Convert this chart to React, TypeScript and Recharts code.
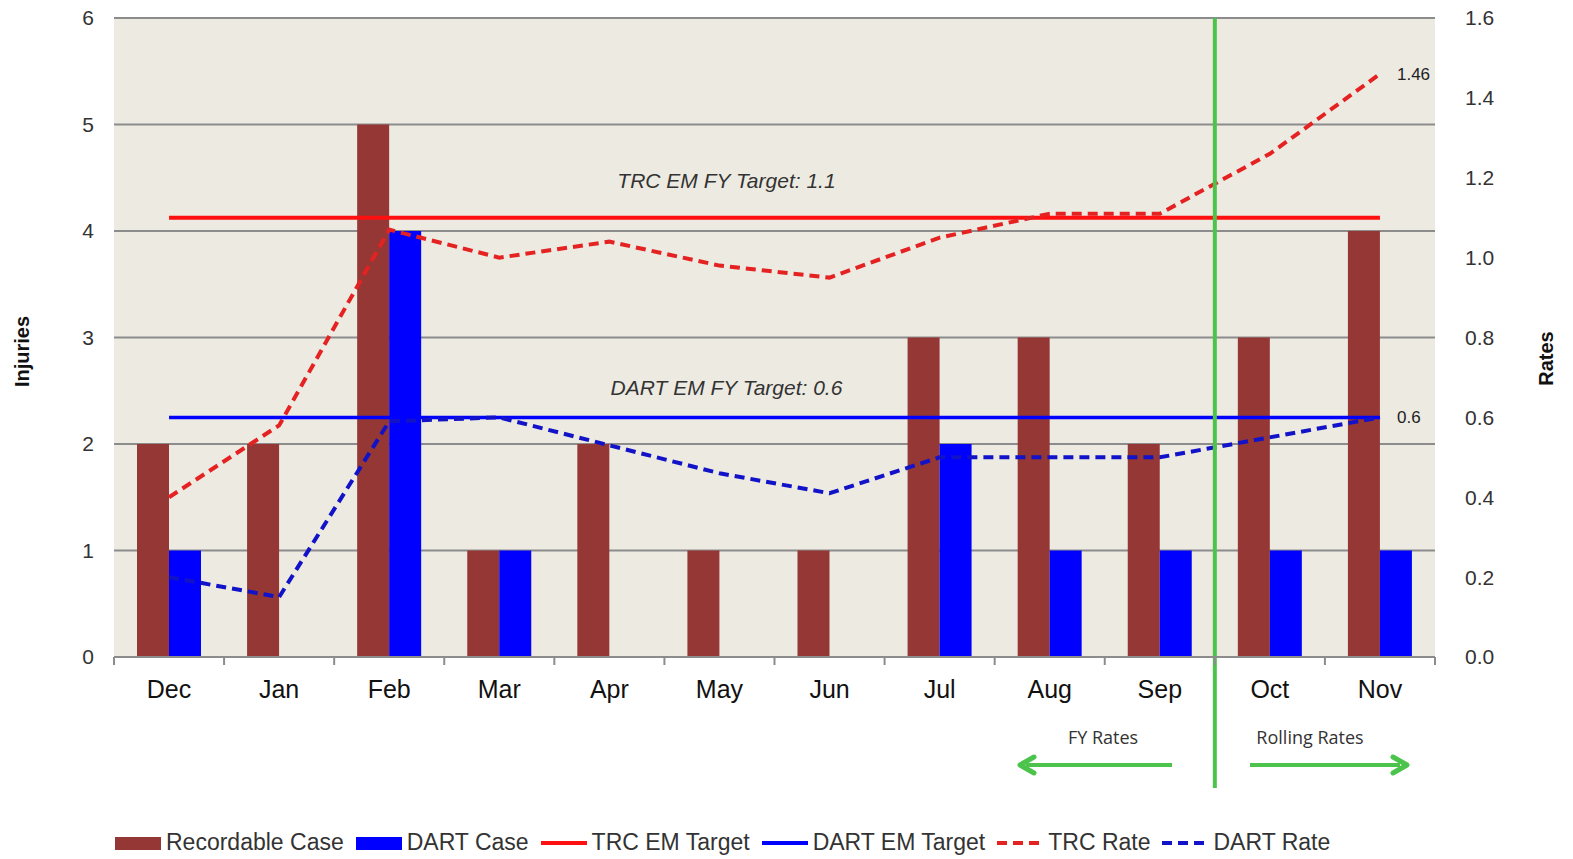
import React from 'react';
import {
  ComposedChart, Bar, Line, XAxis, YAxis, CartesianGrid, Legend, ReferenceLine, LabelList,
} from 'recharts';

const months = ['Dec', 'Jan', 'Feb', 'Mar', 'Apr', 'May', 'Jun', 'Jul', 'Aug', 'Sep', 'Oct', 'Nov'];
const recordableCases = [2, 2, 5, 1, 2, 1, 1, 3, 3, 2, 3, 4];
const dartCases = [1, 0, 4, 1, 0, 0, 0, 2, 1, 1, 1, 1];
const trcTarget = [1.1, 1.1, 1.1, 1.1, 1.1, 1.1, 1.1, 1.1, 1.1, 1.1, 1.1, 1.1];
const dartTarget = [0.6, 0.6, 0.6, 0.6, 0.6, 0.6, 0.6, 0.6, 0.6, 0.6, 0.6, 0.6];
const trcRate = [0.4, 0.58, 1.07, 1.0, 1.04, 0.98, 0.95, 1.05, 1.11, 1.11, 1.26, 1.46];
const dartRate = [0.2, 0.15, 0.59, 0.6, 0.53, 0.46, 0.41, 0.5, 0.5, 0.5, 0.55, 0.6];
const injuryTicks = [0, 1, 2, 3, 4, 5, 6];
const rateTicks = [0, 0.2, 0.4, 0.6, 0.8, 1.0, 1.2, 1.4, 1.6];
const splitAfter = 'Sep';

const data = months.map((m, i) => ({
  month: m,
  recordable: recordableCases[i],
  dart: dartCases[i],
  trcTarget: trcTarget[i],
  dartTarget: dartTarget[i],
  trcRate: trcRate[i],
  dartRate: dartRate[i],
}));

const W = 1573;
const H = 859;
const MARGIN = { top: 18, right: 78, bottom: 9, left: 54 };
const Y_W = 60;
const PLOT_W = W - MARGIN.left - MARGIN.right - 2 * Y_W;
const BAND = PLOT_W / months.length;

const FONT = 'Arial, "Liberation Sans", sans-serif';
const GRID = '#8c8c8c';
const BROWN = '#953735';
const BLUE = '#0000FF';
const RED = '#FF1010';
const RED_D = '#E52222';
const BLUE_D = '#1212C8';
const GREEN = '#4CC44C';

const MonthTick = (props: any) => {
  const { x, y, payload } = props;
  const last = payload.value === months[months.length - 1];
  return (
    <g>
      <line x1={x - BAND / 2} y1={y} x2={x - BAND / 2} y2={y + 8} stroke={GRID} strokeWidth={2} />
      {last && <line x1={x + BAND / 2} y1={y} x2={x + BAND / 2} y2={y + 8} stroke={GRID} strokeWidth={2} />}
      <text x={x} y={y + 41} textAnchor="middle" fontSize={25} fontFamily={FONT} fill="#111">{payload.value}</text>
    </g>
  );
};

const SplitShape = (props: any) => {
  const { x1, y1, y2 } = props;
  const x = x1 + BAND / 2;
  const top = Math.min(y1, y2);
  const ay = 765;
  return (
    <g>
      <line x1={x} y1={top} x2={x} y2={788} stroke={GREEN} strokeWidth={4} />
      <line x1={1172} y1={ay} x2={1026} y2={ay} stroke={GREEN} strokeWidth={4} />
      <polyline points={`1034,${ay - 8} 1020,${ay} 1034,${ay + 8}`} fill="none" stroke={GREEN} strokeWidth={5} strokeLinejoin="round" strokeLinecap="round" />
      <line x1={1250} y1={ay} x2={1400} y2={ay} stroke={GREEN} strokeWidth={4} />
      <polyline points={`1393,${ay - 8} 1407,${ay} 1393,${ay + 8}`} fill="none" stroke={GREEN} strokeWidth={5} strokeLinejoin="round" strokeLinecap="round" />
      <text x={1103} y={744} textAnchor="middle" fontSize={18} fontFamily='"Open Sans", sans-serif' fill="#333">FY Rates</text>
      <text x={1310} y={744} textAnchor="middle" fontSize={18} fontFamily='"Open Sans", sans-serif' fill="#333">Rolling Rates</text>
    </g>
  );
};

const makeTargetLabel = (text: string, dy: number) => (p: any) => {
  if (p.index !== 5) return null;
  return (
    <text x={p.x + 7} y={p.y - dy} textAnchor="middle" fontSize={21} fontStyle="italic" fontFamily={FONT} fill="#333">{text}</text>
  );
};

const makeEndLabel = (text: string) => (p: any) => {
  if (p.index !== months.length - 1) return null;
  return (
    <text x={p.x + 17} y={p.y + 6} fontSize={17} fontFamily={FONT} fill="#222">{text}</text>
  );
};

const legendItems = [
  { label: 'Recordable Case', kind: 'rect', color: BROWN },
  { label: 'DART Case', kind: 'rect', color: BLUE },
  { label: 'TRC EM Target', kind: 'line', color: RED },
  { label: 'DART EM Target', kind: 'line', color: BLUE },
  { label: 'TRC Rate', kind: 'dash', color: RED_D },
  { label: 'DART Rate', kind: 'dash', color: BLUE_D },
];

const LegendContent = () => (
  <div style={{ display: 'flex', alignItems: 'center', fontFamily: FONT, fontSize: 23, color: '#333', whiteSpace: 'nowrap' }}>
    {legendItems.map((it) => (
      <div key={it.label} style={{ display: 'flex', alignItems: 'center', marginRight: 10 }}>
        <svg width={50} height={20} style={{ marginRight: 3 }}>
          {it.kind === 'rect' && <rect x={2} y={4} width={46} height={13} fill={it.color} />}
          {it.kind === 'line' && <line x1={2} y1={10} x2={48} y2={10} stroke={it.color} strokeWidth={4} />}
          {it.kind === 'dash' && <line x1={2} y1={10} x2={48} y2={10} stroke={it.color} strokeWidth={4} strokeDasharray="10 6" />}
        </svg>
        <span>{it.label}</span>
      </div>
    ))}
  </div>
);

const InjuriesTitle = (p: any) => {
  const vb = p.viewBox;
  const cx = vb.x - 32;
  const cy = vb.y + vb.height / 2 + 14;
  return (
    <text x={cx} y={cy} transform={`rotate(-90 ${cx} ${cy})`} textAnchor="middle" dominantBaseline="central" fontSize={20} fontWeight="bold" fontFamily={FONT} fill="#111">Injuries</text>
  );
};

const RatesTitle = (p: any) => {
  const vb = p.viewBox;
  const cx = vb.x + 111;
  const cy = vb.y + vb.height / 2 + 21;
  return (
    <text x={cx} y={cy} transform={`rotate(-90 ${cx} ${cy})`} textAnchor="middle" dominantBaseline="central" fontSize={20} fontWeight="bold" fontFamily={FONT} fill="#111">Rates</text>
  );
};

export default function App() {
  return (
    <div style={{ position: 'absolute', left: 0, top: 0, width: W, height: H, background: '#fff' }}>
      <ComposedChart width={W} height={H} data={data} margin={MARGIN} barGap={0}>
        <CartesianGrid yAxisId="inj" vertical={false} stroke={GRID} strokeWidth={2} fill="#EDEAE2" />
        <XAxis
          dataKey="month"
          height={163}
          interval={0}
          tickLine={false}
          tickSize={0}
          tickMargin={0}
          axisLine={{ stroke: GRID, strokeWidth: 2 }}
          tick={<MonthTick />}
        />
        <YAxis
          yAxisId="inj"
          orientation="left"
          width={Y_W}
          domain={[0, 6]}
          ticks={injuryTicks}
          axisLine={false}
          tickLine={false}
          tickMargin={14}
          tick={{ fontSize: 21, fontFamily: FONT, fill: '#333' }}
          label={{ content: (p: any) => <InjuriesTitle {...p} /> }}
        />
        <YAxis
          yAxisId="rate"
          orientation="right"
          width={Y_W}
          domain={[0, 1.6]}
          ticks={rateTicks}
          axisLine={false}
          tickLine={false}
          tickMargin={24}
          tickFormatter={(v: number) => v.toFixed(1)}
          tick={{ fontSize: 21, fontFamily: FONT, fill: '#333' }}
          label={{ content: (p: any) => <RatesTitle {...p} /> }}
        />
        <Legend verticalAlign="bottom" height={30} wrapperStyle={{ left: 113, width: 1400, bottom: 0 }} content={<LegendContent />} />
        <Bar yAxisId="inj" dataKey="recordable" name="Recordable Case" fill={BROWN} barSize={32} isAnimationActive={false} />
        <Bar yAxisId="inj" dataKey="dart" name="DART Case" fill={BLUE} barSize={32} isAnimationActive={false} />
        <Line yAxisId="rate" dataKey="trcTarget" name="TRC EM Target" stroke={RED} strokeWidth={4} dot={false} activeDot={false} isAnimationActive={false}>
          <LabelList dataKey="trcTarget" content={makeTargetLabel('TRC EM FY Target: 1.1', 30)} />
        </Line>
        <Line yAxisId="rate" dataKey="dartTarget" name="DART EM Target" stroke={BLUE} strokeWidth={3.5} dot={false} activeDot={false} isAnimationActive={false}>
          <LabelList dataKey="dartTarget" content={makeTargetLabel('DART EM FY Target: 0.6', 22)} />
          <LabelList dataKey="dartTarget" content={makeEndLabel('0.6')} />
        </Line>
        <Line yAxisId="rate" dataKey="trcRate" name="TRC Rate" stroke={RED_D} strokeWidth={4} strokeDasharray="10 6" dot={false} activeDot={false} isAnimationActive={false}>
          <LabelList dataKey="trcRate" content={makeEndLabel('1.46')} />
        </Line>
        <Line yAxisId="rate" dataKey="dartRate" name="DART Rate" stroke={BLUE_D} strokeWidth={4} strokeDasharray="10 6" dot={false} activeDot={false} isAnimationActive={false} />
        <ReferenceLine yAxisId="inj" x={splitAfter} ifOverflow="visible" shape={(p: any) => <SplitShape {...p} />} />
      </ComposedChart>
    </div>
  );
}
